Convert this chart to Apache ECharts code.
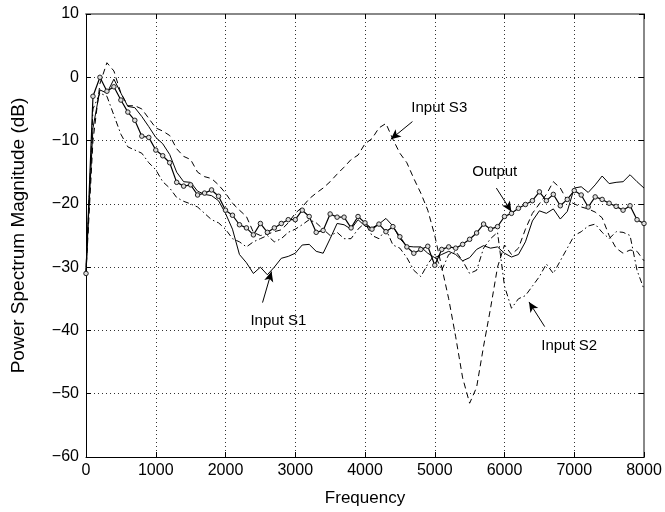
<!DOCTYPE html>
<html>
<head>
<meta charset="utf-8">
<script src="https://cdn.jsdelivr.net/npm/echarts@6/dist/echarts.min.js"></script>
<style>
html,body{margin:0;padding:0;background:#fff;}
#c{width:665px;height:512px;}
</style>
</head>
<body>
<div id="c"></div>
<script>
// Frequencies 0..8000 step 100 Hz
const freqs = [];
for (let f = 0; f <= 8000; f += 100) freqs.push(f);

const output = [-31,-3,0,-2.2,-1.5,-3.6,-5.5,-6.8,-9.3,-9.5,
-11.5,-12.4,-13.5,-16.6,-17.2,-17,-18.6,-18.3,-17.8,-18.8,
-21,-21.8,-23.3,-23.8,-24.9,-23.1,-24.5,-23.8,-23.1,-22.5,
-22.5,-21,-22,-24.5,-24.2,-21.6,-22.1,-22.1,-23.8,-22,
-23,-24,-23.2,-24.4,-23.6,-25.2,-26.8,-27.8,-27.2,-26.7,
-29.7,-27.2,-26.8,-27,-26.4,-25.6,-24.6,-23.2,-24,-23.6,
-22,-21.5,-20.7,-20.1,-19.5,-18.1,-19.5,-18.5,-20.3,-19.3,
-17.9,-18.6,-20.5,-18.9,-19.3,-19.9,-20.4,-21,-20.3,-22.5,-23.1];

const inputS1 = [-30,-8,-2,-2.5,-0.3,-2.5,-4.6,-4.8,-6.2,-7.8,
-9.5,-10.5,-12.2,-15,-16.5,-16.6,-18,-18.5,-18.7,-19.5,
-21.5,-24,-28,-29.3,-31,-30,-31.2,-30,-28.6,-28.3,
-27.8,-26.5,-26.4,-27.5,-27.8,-25.5,-23.1,-23.3,-24,-22.5,
-23.5,-23.8,-23.2,-22.3,-23.5,-25.5,-26.7,-26.8,-26.8,-27.8,
-28.5,-28,-27.5,-28,-29,-28.5,-27.2,-26.6,-27,-26.8,
-27.8,-28.4,-28,-26,-22.7,-21.1,-21.5,-20.8,-22.4,-21.2,
-17.5,-17.3,-18.2,-17,-15.6,-16.8,-16.6,-16.5,-15.4,-16.5,-17.5];

const inputS2 = [-31,-5,-2.5,-3,-6,-9,-11,-11.5,-12,-13.5,
-14.6,-16.5,-17.5,-19,-19.6,-20,-20.5,-21.5,-22.5,-23,
-24,-25.5,-26,-26.8,-26,-25.5,-25,-26,-25.5,-24.5,
-24,-23.3,-22.5,-23,-24,-25,-24.5,-25.5,-25.5,-24,
-23,-25,-25.5,-24,-26.5,-27,-28.5,-30.5,-31.5,-29.5,
-28,-30.5,-28,-27.5,-29,-31,-30.5,-27,-25.5,-24.5,
-33,-36.5,-35,-34.5,-33,-31.5,-29.5,-31,-29,-27,
-25,-24.4,-23.5,-23.2,-24.5,-25.5,-24.4,-24.5,-25,-30.5,-33.5];

const inputS3 = [-31,-10,-1,2.3,1,-2.5,-4.5,-4.5,-5,-6.5,
-8,-8.5,-9.2,-11.3,-12.5,-13,-15,-15.7,-16,-17,
-18.3,-19.9,-21,-22,-24.5,-25,-24.8,-24.4,-24.1,-23,
-21.5,-20.5,-19.2,-18.3,-17.5,-16.5,-15.3,-14.2,-13,-12.3,
-10.5,-9.7,-8,-7.3,-9.8,-12,-13.5,-16,-18.3,-21,
-25,-30,-35,-41,-47.5,-51.5,-49,-42.5,-36.5,-30,
-26.5,-28,-27,-24,-21.5,-20,-18.5,-16.5,-17.5,-19.5,
-20,-20.5,-20.8,-21.3,-22.2,-25,-27,-27.8,-27.3,-27.5,-29];

// Annotation labels: [text, freq, dB]
const labelTexts = ['Input S3', 'Output', 'Input S1', 'Input S2'];
const labelPos = [[5065,-4.9],[5860,-15.0],[2758,-38.5],[6927,-42.4]];
// Arrows: [tailF, tailV, headF, headV]
const arrows = [[4680,-7.0,4370,-9.8],[5883,-17.5,6098,-21.2],[2531,-35.6,2660,-30.7],[6576,-39.4,6351,-35.5]];

const xTicks = {min:0, max:8000, interval:1000};
const yTicks = {min:-60, max:10, interval:10};

const font = 'Liberation Sans, Arial, Helvetica, sans-serif';
const zip = arr => arr.map((v,i)=>[freqs[i], v]);

const chart = echarts.init(document.getElementById('c'), null, {renderer:'canvas'});
const gridLine = {show:true, lineStyle:{color:'#333', width:1, type:[1,3]}};

chart.setOption({
  animation:false,
  backgroundColor:'#fff',
  grid:{left:86, right:21, top:14, bottom:55},
  xAxis:[{
    type:'value', min:xTicks.min, max:xTicks.max, interval:xTicks.interval,
    name:'Frequency', nameLocation:'middle', nameGap:33,
    nameTextStyle:{fontFamily:font, fontSize:17, color:'#000'},
    axisLine:{show:true, onZero:false, lineStyle:{color:'#000', width:1}},
    axisTick:{show:true, inside:true, length:5, lineStyle:{color:'#000'}},
    axisLabel:{fontFamily:font, fontSize:16, color:'#000', margin:6,
      formatter:v => String(v)},
    splitLine:gridLine
  },{
    type:'value', position:'top', min:xTicks.min, max:xTicks.max, interval:xTicks.interval,
    axisLine:{show:true, onZero:false, lineStyle:{color:'#888', width:2}},
    axisTick:{show:true, inside:true, length:5, lineStyle:{color:'#000'}},
    axisLabel:{show:false}, splitLine:{show:false}
  }],
  yAxis:[{
    type:'value', min:yTicks.min, max:yTicks.max, interval:yTicks.interval,
    name:'Power Spectrum Magnitude (dB)', nameLocation:'middle', nameGap:58,
    nameTextStyle:{fontFamily:font, fontSize:19, color:'#000'},
    axisLine:{show:true, onZero:false, lineStyle:{color:'#000', width:1}},
    axisTick:{show:true, inside:true, length:5, lineStyle:{color:'#000'}},
    axisLabel:{fontFamily:font, fontSize:16, color:'#000', margin:7,
      formatter:v => String(v).replace('-', '\u2212')},
    splitLine:gridLine
  },{
    type:'value', position:'right', min:yTicks.min, max:yTicks.max, interval:yTicks.interval,
    axisLine:{show:true, onZero:false, lineStyle:{color:'#888', width:2}},
    axisTick:{show:true, inside:true, length:5, lineStyle:{color:'#000'}},
    axisLabel:{show:false}, splitLine:{show:false}
  }],
  series:[
    {name:'Input S3', type:'line', data:zip(inputS3), showSymbol:false, symbol:'none',
     lineStyle:{color:'#000', width:1, type:[6,4]}, z:2},
    {name:'Input S2', type:'line', data:zip(inputS2), showSymbol:false, symbol:'none',
     lineStyle:{color:'#000', width:1, type:[6,3,1.5,3]}, z:2},
    {name:'Input S1', type:'line', data:zip(inputS1), showSymbol:false, symbol:'none',
     lineStyle:{color:'#000', width:1}, z:3},
    {name:'Output', type:'line', data:zip(output), symbol:'circle', symbolSize:4.5, showSymbol:true,
     itemStyle:{color:'#ddd', borderColor:'#222', borderWidth:1},
     lineStyle:{color:'#000', width:1.2}, z:4,
     markLine:{
       silent:true, animation:false,
       symbol:['none','arrow'], symbolSize:[7,10],
       lineStyle:{color:'#000', width:1, type:'solid'},
       label:{show:false},
       data: arrows.map(a => [{coord:[a[0],a[1]]},{coord:[a[2],a[3]]}])
     },
     markPoint:{
       silent:true, animation:false,
       symbol:'circle', symbolSize:1,
       itemStyle:{color:'rgba(0,0,0,0)'},
       label:{show:true, position:'inside', color:'#000', fontFamily:font, fontSize:15,
         formatter:p => p.name},
       data: labelTexts.map((t,i) => ({name:t, coord:labelPos[i]}))
     }
    }
  ]
});
</script>
</body>
</html>
